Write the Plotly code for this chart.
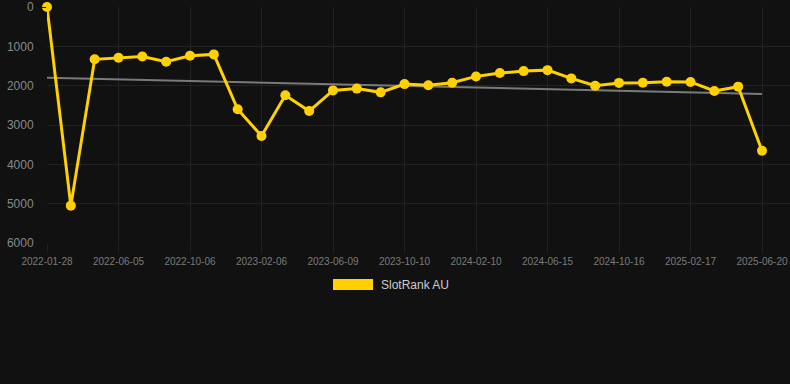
import plotly.graph_objects as go

dates = [
    "2022-01-28", "2022-03-12", "2022-04-24", "2022-06-05", "2022-07-16", "2022-08-26",
    "2022-10-06", "2022-11-16", "2022-12-27", "2023-02-06", "2023-03-19", "2023-04-29",
    "2023-06-09", "2023-07-20", "2023-08-30", "2023-10-10", "2023-11-20", "2023-12-31",
    "2024-02-10", "2024-03-23", "2024-05-04", "2024-06-15", "2024-07-26", "2024-09-05",
    "2024-10-16", "2024-11-26", "2025-01-06", "2025-02-17", "2025-03-30", "2025-05-10",
    "2025-06-20",
]
rank = [
    0, 5050, 1330, 1290, 1260, 1390, 1240, 1205, 2600, 3280, 2245, 2645,
    2120, 2075, 2170, 1960, 1990, 1925, 1765, 1680, 1630, 1605, 1815, 2000,
    1930, 1925, 1900, 1905, 2135, 2025, 3655,
]
trend_dates = [dates[0], dates[-1]]
trend_values = [1800, 2210]
tick_labels = dates[::3]
y_ticks = [0, 1000, 2000, 3000, 4000, 5000, 6000]
series_name = "SlotRank AU"

W, H = 790, 384
L, R, T, B = 47, 0, 7, 141
plot_w = W - L - R
plot_h = H - T - B

GOLD = "#FFD100"
BG = "#111111"
GRID = "#222222"

fig = go.Figure()
fig.add_trace(go.Scatter(
    x=trend_dates, y=trend_values, mode="lines",
    line=dict(color="#7a7a7a", width=2), hoverinfo="skip", showlegend=False,
))
fig.add_trace(go.Scatter(
    x=dates, y=rank, mode="lines+markers", name=series_name,
    line=dict(color=GOLD, width=3),
    marker=dict(color=GOLD, size=10),
    cliponaxis=False, showlegend=False,
))

fig.update_layout(
    width=W, height=H,
    margin=dict(l=L, r=R, t=T, b=B, pad=0),
    paper_bgcolor=BG, plot_bgcolor=BG,
    font=dict(family="Liberation Sans, Arial, sans-serif", color="#888888"),
    xaxis=dict(
        type="category", categoryorder="array", categoryarray=dates,
        range=[0, 30 + 28 / 23.83],
        tickmode="array", tickvals=tick_labels, ticktext=tick_labels,
        showgrid=True, gridcolor=GRID, gridwidth=1,
        zeroline=False, showline=False,
        ticks="outside", ticklen=9, tickcolor=GRID,
        tickfont=dict(size=10, color="#7a7a7a"), tickangle=0,
    ),
    yaxis=dict(
        range=[6000, 0], tickvals=y_ticks,
        showgrid=True, gridcolor=GRID, gridwidth=1,
        zeroline=False, showline=False,
        ticks="outside", ticklen=10, tickcolor=BG,
        tickfont=dict(size=12, color="#888888"),
    ),
    showlegend=False,
)

def px_x(px):
    return (px - L) / plot_w

def px_y(py):
    return (H - B - py) / plot_h

fig.add_shape(type="rect", xref="paper", yref="paper",
              x0=px_x(333), x1=px_x(373), y0=px_y(290), y1=px_y(279),
              fillcolor=GOLD, line=dict(width=0))
fig.add_annotation(xref="paper", yref="paper", x=px_x(379), y=px_y(285),
                   text=series_name, showarrow=False, xanchor="left", yanchor="middle",
                   font=dict(size=12, color="#cccccc"))

fig.write_html(
    "out.html",
    config={"displayModeBar": False},
    post_script="document.body.style.margin='0';document.body.style.background='#111111';",
)
